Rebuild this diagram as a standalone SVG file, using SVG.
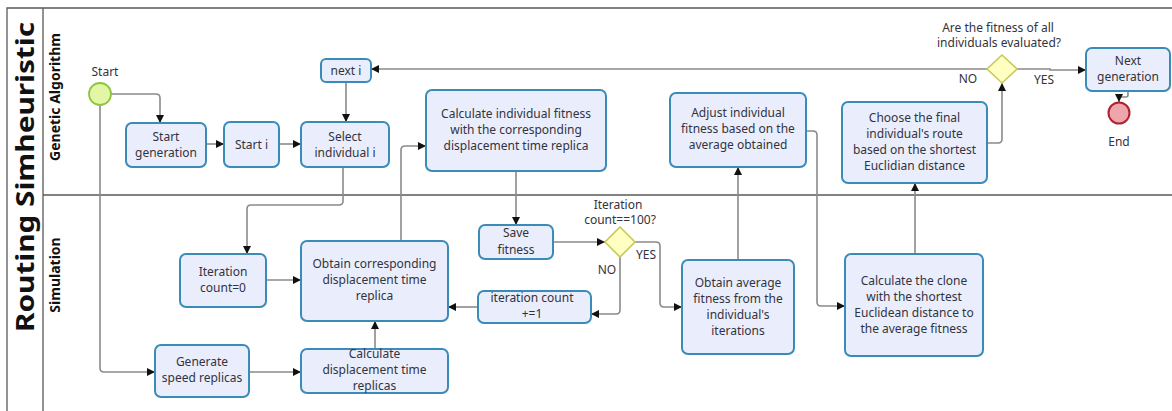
<svg xmlns="http://www.w3.org/2000/svg" width="1172" height="411" viewBox="0 0 1172 411">
<defs>
<style>
.pool{fill:none;stroke:#5a5a5a;stroke-width:1.3}
.task{fill:#eaeefc;stroke:#3a8bb8;stroke-width:2}
.t{font-family:"Noto Sans","Open Sans",sans-serif;font-size:12px;fill:#333340;text-anchor:middle}
.conn path{fill:none;stroke:#8a8a8a;stroke-width:1.6}
.gw{fill:#ffffc2;stroke:#c9c95a;stroke-width:1.6}
.hdr{font-family:"Noto Sans","Open Sans",sans-serif;font-weight:bold;fill:#111;text-anchor:middle}
</style>
<marker id="arr" markerUnits="userSpaceOnUse" markerWidth="9" markerHeight="9" refX="8" refY="4" orient="auto">
<path d="M0,0 L8,4 L0,8 z" fill="#111"/>
</marker>
</defs>
<rect width="1172" height="411" fill="#fff"/>
<g id="pool">
<path class="pool" d="M7,411 V8 H1172 M43,8 V411 M43,195 H1172"/>
<text class="hdr" font-size="25" textLength="310" lengthAdjust="spacingAndGlyphs" transform="translate(34,177) rotate(-90)">Routing Simheuristic</text>
<text class="hdr" font-size="14" transform="translate(60,97) rotate(-90)">Genetic Algorithm</text>
<text class="hdr" font-size="14" transform="translate(60,275) rotate(-90)">Simulation</text>
</g>
<g class="conn">
<path d="M111,94 H156 Q160,94 160,98 V123" marker-end="url(#arr)"/>
<path d="M100,105 V368 Q100,372 104,372 H155" marker-end="url(#arr)"/>
<path d="M206,144 H224" marker-end="url(#arr)"/>
<path d="M279,144 H301" marker-end="url(#arr)"/>
<path d="M346,82 V122" marker-end="url(#arr)"/>
<path d="M987,69 H371" marker-end="url(#arr)"/>
<path d="M343,167 V201 Q343,205 339,205 H251 Q247,205 247,209 V254" marker-end="url(#arr)"/>
<path d="M266,280 H301" marker-end="url(#arr)"/>
<path d="M401,241 V150 Q401,146 405,146 H426" marker-end="url(#arr)"/>
<path d="M516,171 V225" marker-end="url(#arr)"/>
<path d="M553,242 H605" marker-end="url(#arr)"/>
<path d="M620,257 V310 Q620,314 616,314 H591" marker-end="url(#arr)"/>
<path d="M478,307 H448" marker-end="url(#arr)"/>
<path d="M635,242 H656 Q660,242 660,246 V303 Q660,307 664,307 H682" marker-end="url(#arr)"/>
<path d="M738,260 V167" marker-end="url(#arr)"/>
<path d="M806,131 H813 Q817,131 817,135 V302 Q817,306 821,306 H845" marker-end="url(#arr)"/>
<path d="M915,254 V183" marker-end="url(#arr)"/>
<path d="M987,143 H998 Q1002,143 1002,139 V83" marker-end="url(#arr)"/>
<path d="M1017,69 H1050 V70 H1086" marker-end="url(#arr)"/>
<path d="M1128,91 V95 Q1128,97 1126,97 H1121 Q1119,97 1119,99 V102" marker-end="url(#arr)"/>
<path d="M375,349 V321" marker-end="url(#arr)"/>
<path d="M249,372 H301" marker-end="url(#arr)"/>
</g>
<g id="start">
<circle cx="100" cy="94" r="11" fill="#e2f6a6" stroke="#8cc63f" stroke-width="1.8"/>
<text class="t" x="105" y="76">Start</text>
</g>
<g id="start-generation">
<rect class="task" x="126" y="123" width="80" height="44" rx="6"/>
<text class="t" x="166" y="141">Start</text><text class="t" x="166" y="157">generation</text>
</g>
<g id="start-i">
<rect class="task" x="224" y="122" width="55" height="45" rx="6"/>
<text class="t" x="251.5" y="149">Start i</text>
</g>
<g id="select-individual">
<rect class="task" x="301" y="122" width="88" height="45" rx="6"/>
<text class="t" x="345" y="141">Select</text><text class="t" x="345" y="157">individual i</text>
</g>
<g id="next-i">
<rect class="task" x="321" y="59" width="50" height="23" rx="5"/>
<text class="t" x="346" y="75">next i</text>
</g>
<g id="calc-fitness">
<rect class="task" x="426" y="90" width="180" height="81" rx="6"/>
<text class="t" x="516" y="118">Calculate individual fitness</text>
<text class="t" x="516" y="134">with the corresponding</text>
<text class="t" x="516" y="150">displacement time replica</text>
</g>
<g id="adjust-fitness">
<rect class="task" x="670" y="93" width="136" height="74" rx="6"/>
<text class="t" x="738" y="117">Adjust individual</text>
<text class="t" x="738" y="133">fitness based on the</text>
<text class="t" x="738" y="149">average obtained</text>
</g>
<g id="choose-final">
<rect class="task" x="842" y="102" width="145" height="81" rx="6"/>
<text class="t" x="914.5" y="122">Choose the final</text>
<text class="t" x="914.5" y="138">individual's route</text>
<text class="t" x="914.5" y="154">based on the shortest</text>
<text class="t" x="914.5" y="170">Euclidian distance</text>
</g>
<g id="gateway-all-evaluated">
<path class="gw" d="M1002,55 L1017,69 L1002,83 L987,69 z"/>
<text class="t" x="998" y="32">Are the fitness of all</text>
<text class="t" x="999" y="47">individuals evaluated?</text>
<text class="t" x="968" y="83">NO</text>
<text class="t" x="1044" y="84">YES</text>
</g>
<g id="next-generation">
<rect class="task" x="1086" y="48" width="84" height="43" rx="6"/>
<text class="t" x="1128" y="65">Next</text><text class="t" x="1128" y="81">generation</text>
</g>
<g id="end">
<circle cx="1119" cy="113" r="10.5" fill="#eca6ac" stroke="#b3202c" stroke-width="2"/>
<text class="t" x="1119" y="146">End</text>
</g>
<g id="iteration-count-0">
<rect class="task" x="180" y="254" width="86" height="53" rx="6"/>
<text class="t" x="223" y="276">Iteration</text><text class="t" x="223" y="292">count=0</text>
</g>
<g id="obtain-replica">
<rect class="task" x="301" y="241" width="147" height="80" rx="6"/>
<text class="t" x="374.5" y="268">Obtain corresponding</text>
<text class="t" x="374.5" y="284">displacement time</text>
<text class="t" x="374.5" y="300">replica</text>
</g>
<g id="generate-speed">
<rect class="task" x="155" y="345" width="94" height="52" rx="6"/>
<text class="t" x="202" y="366">Generate</text><text class="t" x="202" y="382">speed replicas</text>
</g>
<g id="calc-displacement">
<rect class="task" x="301" y="349" width="147" height="44" rx="6"/>
<text class="t" x="374.5" y="358">Calculate</text>
<text class="t" x="374.5" y="374">displacement time</text>
<text class="t" x="374.5" y="390">replicas</text>
</g>
<g id="save-fitness">
<rect class="task" x="479" y="225" width="74" height="34" rx="6"/>
<text class="t" x="516" y="237">Save</text><text class="t" x="516" y="254">fitness</text>
</g>
<g id="gateway-iteration">
<path class="gw" d="M620,227 L635,242 L620,257 L605,242 z"/>
<text class="t" x="618" y="209">Iteration</text>
<text class="t" x="620" y="224">count==100?</text>
<text class="t" x="607" y="274">NO</text>
<text class="t" x="646" y="259">YES</text>
</g>
<g id="iteration-increment">
<rect class="task" x="478" y="291" width="113" height="32" rx="6"/>
<text class="t" x="532" y="302">iteration count</text>
<text class="t" x="532" y="318">+=1</text>
</g>
<g id="obtain-average">
<rect class="task" x="682" y="260" width="112" height="94" rx="6"/>
<text class="t" x="738" y="287">Obtain average</text>
<text class="t" x="738" y="303">fitness from the</text>
<text class="t" x="738" y="319">individual's</text>
<text class="t" x="738" y="335">iterations</text>
</g>
<g id="calc-clone">
<rect class="task" x="845" y="254" width="138" height="102" rx="6"/>
<text class="t" x="914" y="285">Calculate the clone</text>
<text class="t" x="914" y="301">with the shortest</text>
<text class="t" x="914" y="317">Euclidean distance to</text>
<text class="t" x="914" y="333">the average fitness</text>
</g>
</svg>
